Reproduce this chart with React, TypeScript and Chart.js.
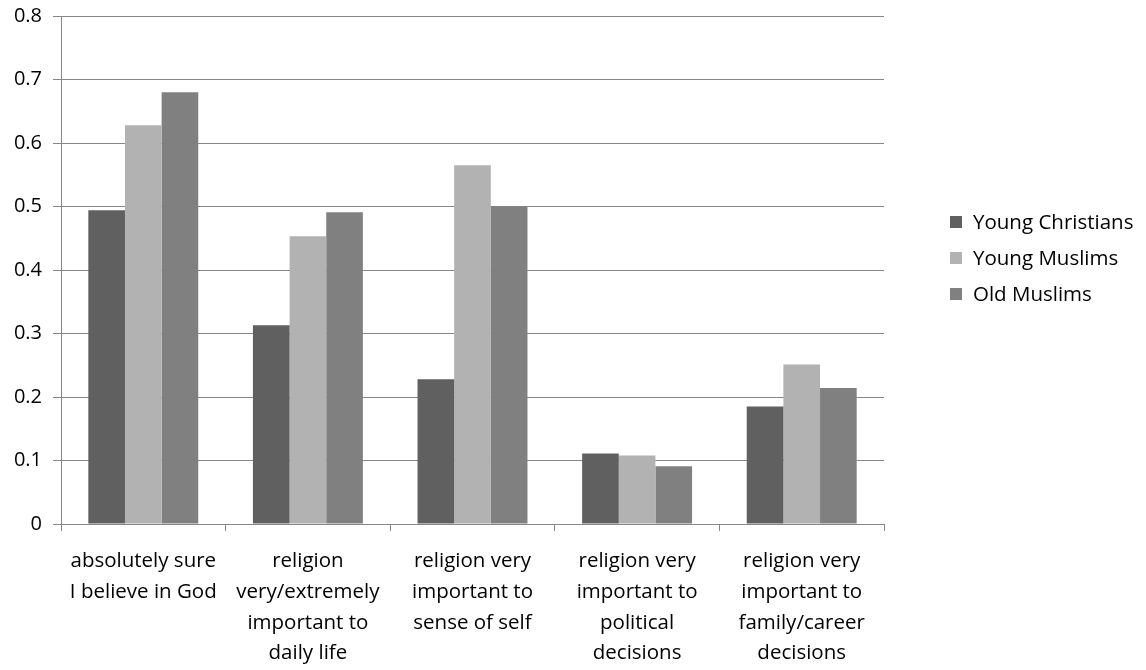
import React, { useEffect, useRef } from "react";
import { Chart, registerables } from "chart.js";

Chart.register(...registerables);

const categories: string[][] = [
  ["absolutely sure", "I believe in God"],
  ["religion", "very/extremely", "important to", "daily life"],
  ["religion very", "important to", "sense of self"],
  ["religion very", "important to", "political", "decisions"],
  ["religion very", "important to", "family/career", "decisions"],
];

const seriesNames = ["Young Christians", "Young Muslims", "Old Muslims"];
const youngChristians = [0.494, 0.313, 0.228, 0.111, 0.185];
const youngMuslims = [0.628, 0.453, 0.565, 0.108, 0.251];
const oldMuslims = [0.68, 0.491, 0.5, 0.091, 0.214];
const seriesColors = ["#606060", "#b2b2b2", "#808080"];

const FONT = "'Open Sans', 'DejaVu Sans', sans-serif";
const AXIS_COLOR = "#878787";

const legendPlugin = {
  id: "sideLegend",
  afterDraw(chart: any) {
    const ctx = chart.ctx;
    const ds = chart.data.datasets;
    ctx.save();
    ctx.font = `20.5px ${FONT}`;
    ctx.textBaseline = "middle";
    ctx.textAlign = "left";
    const startY = 222;
    const step = 36;
    ds.forEach((d: any, i: number) => {
      const cy = startY + i * step;
      ctx.fillStyle = d.backgroundColor;
      ctx.fillRect(950, cy - 6, 12, 12);
      ctx.fillStyle = "#000";
      ctx.fillText(d.label, 973, cy + 1);
    });
    ctx.restore();
  },
};

export default function App() {
  const ref = useRef<HTMLCanvasElement>(null);
  useEffect(() => {
    if (!ref.current) return;
    const data = [youngChristians, youngMuslims, oldMuslims];
    const chart = new Chart(ref.current, {
      type: "bar",
      data: {
        labels: categories,
        datasets: seriesNames.map((name, i) => ({
          label: name,
          data: data[i],
          backgroundColor: seriesColors[i],
          borderWidth: 0,
          categoryPercentage: 0.668,
          barPercentage: 1.0,
        })),
      },
      plugins: [legendPlugin],
      options: {
        animation: false,
        responsive: false,
        layout: { padding: { left: 0, right: 262, top: 16, bottom: 0 } },
        plugins: {
          legend: { display: false },
          tooltip: { enabled: false },
        },
        scales: {
          x: {
            afterFit: (scale: any) => {
              scale.height = 146;
              scale.paddingLeft = 0;
              scale.paddingRight = 0;
            },
            grid: {
              drawOnChartArea: false,
              drawTicks: true,
              tickLength: 7,
              color: AXIS_COLOR,
              lineWidth: 1,
            },
            border: { display: true, color: AXIS_COLOR, width: 1 },
            ticks: {
              color: "#000",
              autoSkip: false,
              maxRotation: 0,
              minRotation: 0,
              padding: 15,
              font: { family: FONT, size: 20.5, lineHeight: 1.5 },
            },
          },
          y: {
            min: 0,
            max: 0.8,
            afterFit: (scale: any) => {
              scale.width = 61;
              scale.paddingTop = 0;
              scale.paddingBottom = 0;
            },
            grid: {
              color: AXIS_COLOR,
              lineWidth: 1,
              drawTicks: true,
              tickLength: 8,
            },
            border: { display: true, color: AXIS_COLOR, width: 1 },
            ticks: {
              stepSize: 0.1,
              color: "#000",
              padding: 11,
              font: { family: FONT, size: 20 },
            },
          },
        },
      },
    });
    return () => chart.destroy();
  }, []);
  return (
    <div style={{ position: "absolute", left: 0, top: 0, width: 1146, height: 670, background: "#fff" }}>
      <canvas ref={ref} width={1146} height={670} style={{ display: "block" }} />
    </div>
  );
}
